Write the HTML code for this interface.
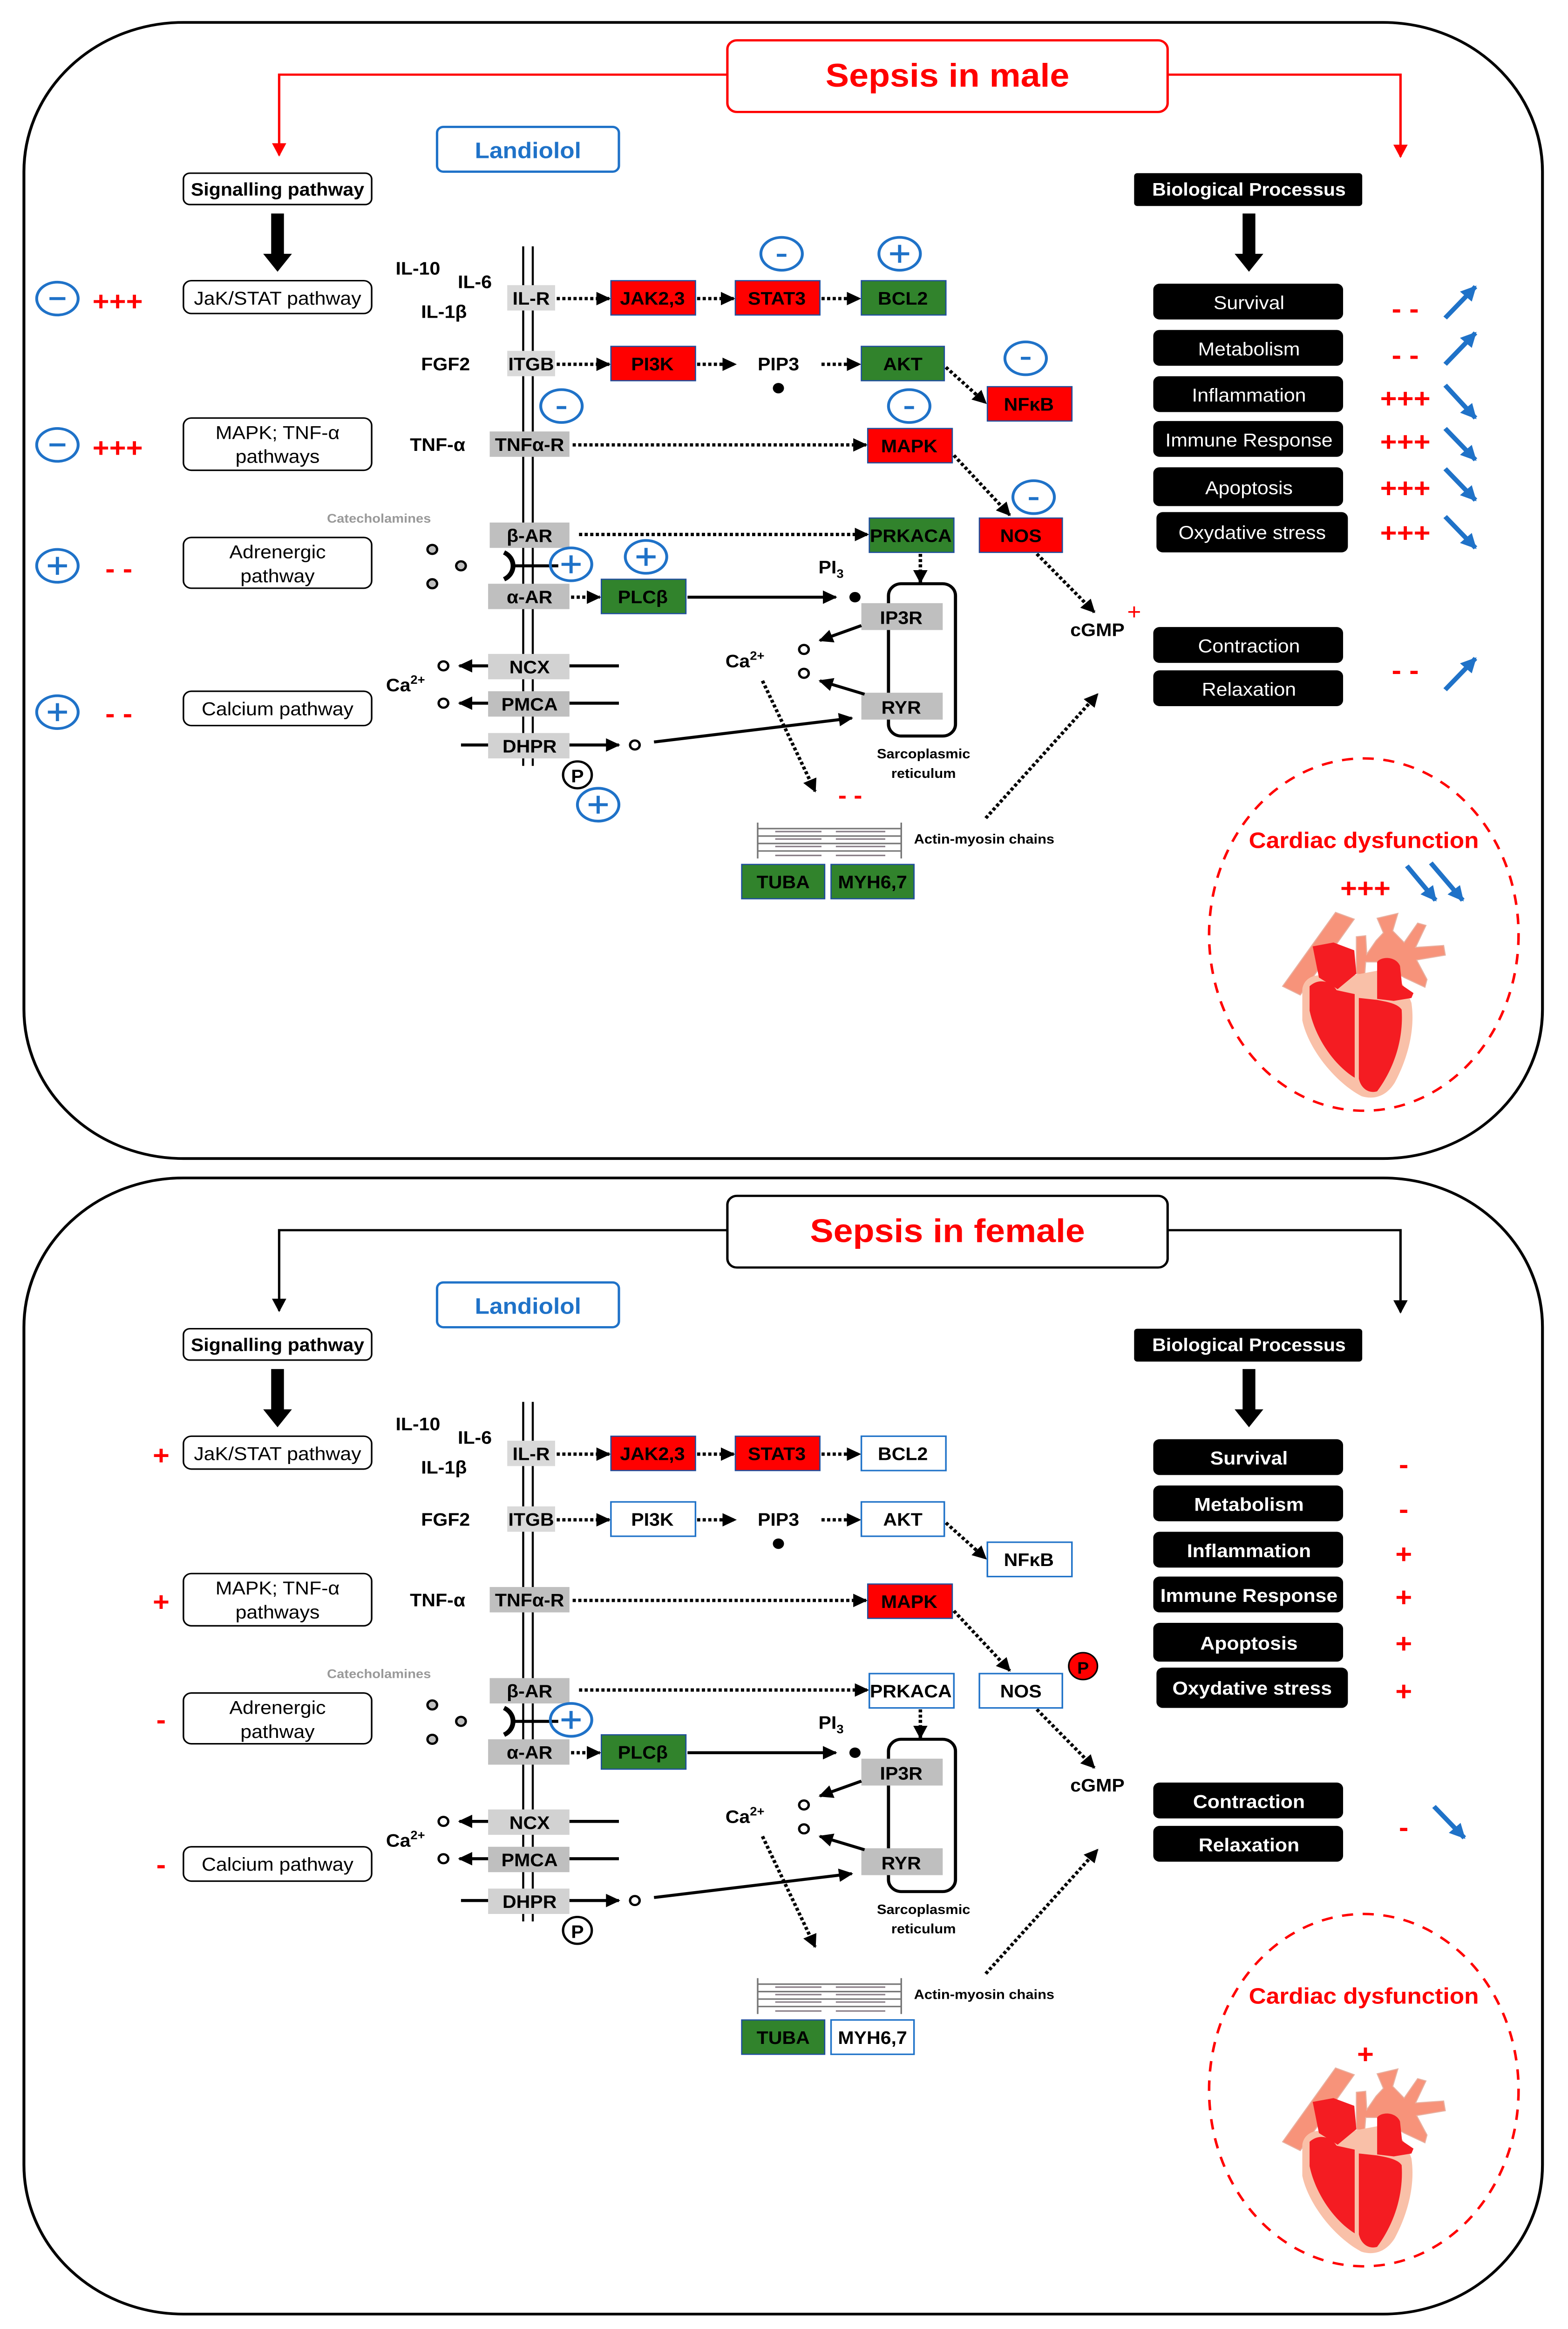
<!DOCTYPE html>
<html><head><meta charset="utf-8"><style>
html,body{margin:0;padding:0;background:#fff;width:100%;height:100%;overflow:hidden}
svg{display:block;width:100vw;height:100vh}
text{font-family:"Liberation Sans",sans-serif}
</style></head><body>
<svg viewBox="0 0 983 1560" preserveAspectRatio="none" xmlns="http://www.w3.org/2000/svg">
<defs>
<marker id="a" viewBox="0 0 10 10" refX="9" refY="5" markerWidth="9" markerHeight="9" markerUnits="userSpaceOnUse" orient="auto"><path d="M0,0L10,5L0,10z" fill="#000"/></marker>
<marker id="r" viewBox="0 0 10 10" refX="9" refY="5" markerWidth="9" markerHeight="9" markerUnits="userSpaceOnUse" orient="auto"><path d="M0,0L10,5L0,10z" fill="#f00"/></marker>
<marker id="b" viewBox="0 0 10 10" refX="9" refY="5" markerWidth="10" markerHeight="10" markerUnits="userSpaceOnUse" orient="auto"><path d="M0,0L10,5L0,10z" fill="#1f72c8"/></marker>
<g id="heart">
 <g transform="translate(759.1,540.1) scale(0.1303)">
 <path d="M345,925 L600,545 L690,580 L430,970 Z" fill="#f7937a" stroke="#e8b0a0" stroke-width="5"/>
 <path d="M800,575 L900,550 L875,640 L930,700 L995,600 L1035,612 L985,725 L1120,715 L1128,765 L990,790 L1040,890 L1030,930 L930,880 L800,800 L745,800 L740,870 L700,860 L700,670 L745,665 L750,760 L795,690 L830,650 Z" fill="#f7937a" stroke="#e8b0a0" stroke-width="5"/>
 <path d="M440,940 C450,870 520,850 600,885 L800,845 C870,830 930,900 965,1010 C985,1150 945,1300 885,1420 C845,1490 785,1510 725,1490 C600,1420 470,1250 440,1100 Z" fill="#f9c0a8"/>
 <path d="M490,720 L590,700 L690,740 L700,860 L610,940 L520,880 Z" fill="#f41c22"/>
 <path d="M475,925 C520,880 580,900 605,945 L692,965 L692,1395 C600,1335 505,1200 475,1050 Z" fill="#f41c22"/>
 <path d="M712,985 L800,995 C850,1005 900,1015 918,1045 C928,1200 880,1350 800,1465 C760,1478 722,1450 712,1400 Z" fill="#f41c22"/>
 <path d="M800,800 C820,770 890,770 910,820 L920,920 L975,960 L965,985 L880,1000 L800,990 Z" fill="#f41c22"/>
 </g>
</g>
<g id="common">
 <rect x="115" y="116" width="118" height="21" rx="4" fill="#fff" stroke="#000" stroke-width="1"/>
 <text x="174" y="131" font-size="12" font-weight="bold" text-anchor="middle">Signalling pathway</text>
 <path d="M170,143 L178,143 L178,170 L183,170 L174,182 L165,170 L170,170 Z" fill="#000"/>
 <rect x="115" y="188" width="118" height="22" rx="5" fill="#fff" stroke="#000"/>
 <text x="174" y="204" font-size="12.5" text-anchor="middle">JaK/STAT pathway</text>
 <rect x="115" y="280" width="118" height="35" rx="5" fill="#fff" stroke="#000"/>
 <text x="174" y="294" font-size="12.5" text-anchor="middle">MAPK; TNF-α</text>
 <text x="174" y="310" font-size="12.5" text-anchor="middle">pathways</text>
 <rect x="115" y="360" width="118" height="34" rx="5" fill="#fff" stroke="#000"/>
 <text x="174" y="374" font-size="12.5" text-anchor="middle">Adrenergic</text>
 <text x="174" y="390" font-size="12.5" text-anchor="middle">pathway</text>
 <rect x="115" y="463" width="118" height="23" rx="5" fill="#fff" stroke="#000"/>
 <text x="174" y="479" font-size="12.5" text-anchor="middle">Calcium pathway</text>
 <rect x="274" y="85" width="114" height="30" rx="4" fill="#fff" stroke="#1f72c8" stroke-width="1.5"/>
 <text x="331" y="106" font-size="15" font-weight="bold" fill="#1f72c8" text-anchor="middle">Landiolol</text>
 <line x1="328" y1="165" x2="328" y2="513" stroke="#000" stroke-width="1.3"/>
 <line x1="334" y1="165" x2="334" y2="513" stroke="#000" stroke-width="1.3"/>
 <g font-size="12" font-weight="bold">
 <text x="248" y="184">IL-10</text><text x="287" y="193">IL-6</text><text x="264" y="213">IL-1β</text>
 <text x="264" y="248">FGF2</text><text x="257" y="302">TNF-α</text>
 <text x="242" y="463">Ca<tspan font-size="8" dy="-5">2+</tspan></text>
 </g>
 <text x="205" y="350" font-size="8.5" font-weight="bold" fill="#999">Catecholamines</text>
 <rect x="318" y="191" width="30" height="17" fill="#d9d9d9"/><rect x="318" y="235" width="30" height="17" fill="#d9d9d9"/>
 <rect x="307" y="289" width="50" height="17" fill="#bfbfbf"/><rect x="307" y="350" width="50" height="17" fill="#bfbfbf"/>
 <rect x="306" y="391" width="51" height="17" fill="#bfbfbf"/><rect x="306" y="438" width="51" height="17" fill="#d2d2d2"/>
 <rect x="306" y="463" width="51" height="17" fill="#bfbfbf"/><rect x="306" y="491" width="51" height="17" fill="#d2d2d2"/>
 <g font-size="12" font-weight="bold" text-anchor="middle">
 <text x="333" y="204">IL-R</text><text x="333" y="248">ITGB</text><text x="332" y="302">TNFα-R</text>
 <text x="332" y="363">β-AR</text><text x="332" y="404">α-AR</text><text x="332" y="451">NCX</text>
 <text x="332" y="476">PMCA</text><text x="332" y="504">DHPR</text>
 </g>
 <rect x="383" y="188" width="53" height="23" fill="#f00" stroke="#1f4e9c" stroke-width="0.8"/>
 <rect x="461" y="188" width="53" height="23" fill="#f00" stroke="#1f4e9c" stroke-width="0.8"/>
 <rect x="544" y="287" width="53" height="23" fill="#f00" stroke="#1f4e9c" stroke-width="0.8"/>
 <rect x="377" y="388" width="53" height="23" fill="#31832c" stroke="#1f4e9c" stroke-width="0.8"/>
 <rect x="465" y="579" width="52" height="23" fill="#31832c" stroke="#1f4e9c" stroke-width="0.8"/>
 <g font-size="12" font-weight="bold" text-anchor="middle">
 <text x="409" y="204">JAK2,3</text><text x="487" y="204">STAT3</text><text x="570" y="303">MAPK</text>
 <text x="403" y="404">PLCβ</text><text x="491" y="595">TUBA</text>
 <text x="488" y="248">PIP3</text><text x="688" y="426">cGMP</text>
 <text x="521" y="384">PI<tspan font-size="8" dy="3">3</tspan></text>
 <text x="467" y="447">Ca<tspan font-size="8" dy="-5">2+</tspan></text>
 </g>
 <circle cx="488" cy="260" r="3.5"/><circle cx="536" cy="400" r="3.5"/>
 <g stroke="#000" stroke-width="2.2" stroke-dasharray="2,1.5" fill="none" marker-end="url(#a)">
 <line x1="349" y1="200" x2="382" y2="200"/><line x1="437" y1="200" x2="460" y2="200"/><line x1="515" y1="200" x2="539" y2="200"/>
 <line x1="349" y1="244" x2="382" y2="244"/><line x1="437" y1="244" x2="461" y2="244"/><line x1="515" y1="244" x2="539" y2="244"/>
 <line x1="593" y1="246" x2="618" y2="270"/>
 <line x1="359" y1="298" x2="543" y2="298"/>
 <line x1="598" y1="305" x2="633" y2="345"/>
 <line x1="363" y1="358" x2="544" y2="358"/>
 <line x1="577" y1="371" x2="577" y2="390"/>
 <line x1="358" y1="400" x2="376" y2="400"/>
 <line x1="650" y1="371" x2="686" y2="410"/>
 <line x1="478" y1="456" x2="511" y2="530"/>
 <line x1="618" y1="548" x2="688" y2="465"/>
 </g>
 <rect x="557" y="391" width="42" height="102" rx="8" fill="none" stroke="#000" stroke-width="2"/>
 <rect x="540" y="404" width="51" height="18" fill="#bfbfbf"/><rect x="540" y="464" width="51" height="18" fill="#bfbfbf"/>
 <g font-size="12" font-weight="bold" text-anchor="middle"><text x="565" y="418">IP3R</text><text x="565" y="478">RYR</text></g>
 <g font-size="9" font-weight="bold" text-anchor="middle"><text x="579" y="508">Sarcoplasmic</text><text x="579" y="521">reticulum</text></g>
 <g stroke="#000" stroke-width="2" fill="none" marker-end="url(#a)">
 <line x1="431" y1="400" x2="524" y2="400"/>
 <line x1="540" y1="419" x2="514" y2="429"/>
 <line x1="542" y1="465" x2="514" y2="456"/>
 <line x1="306" y1="446" x2="288" y2="446"/><line x1="306" y1="471" x2="288" y2="471"/>
 <line x1="357" y1="499" x2="388" y2="499"/>
 <line x1="410" y1="497" x2="534" y2="481"/>
 </g>
 <g stroke="#000" stroke-width="2"><line x1="357" y1="446" x2="388" y2="446"/><line x1="357" y1="471" x2="388" y2="471"/><line x1="289" y1="499" x2="306" y2="499"/><line x1="322" y1="379" x2="350" y2="379"/></g>
 <path d="M316,370 A10,10 0 0 1 316,388" fill="none" stroke="#000" stroke-width="3"/>
 <g fill="#fff" stroke="#000" stroke-width="1.5">
 <circle cx="504" cy="435" r="3"/><circle cx="504" cy="451" r="3"/>
 <circle cx="278" cy="446" r="3"/><circle cx="278" cy="471" r="3"/><circle cx="398" cy="499" r="3"/>
 </g>
 <g fill="#bfbfbf" stroke="#000" stroke-width="1.5"><circle cx="271" cy="368" r="3"/><circle cx="289" cy="379" r="3"/><circle cx="271" cy="391" r="3"/></g>
 <circle cx="362" cy="519" r="9" fill="#fff" stroke="#000" stroke-width="1.5"/>
 <text x="362" y="524" font-size="12" font-weight="bold" text-anchor="middle">P</text>
 <rect x="472" y="551" width="96" height="24" fill="#fff"/>
 <g stroke="#777" stroke-width="1"><line x1="475" y1="551" x2="475" y2="575"/><line x1="565" y1="551" x2="565" y2="575"/>
 <line x1="475" y1="555" x2="565" y2="555"/><line x1="475" y1="560" x2="565" y2="560"/><line x1="475" y1="565" x2="565" y2="565"/><line x1="475" y1="570" x2="565" y2="570"/></g>
 <g stroke="#8a7f88" stroke-width="1"><line x1="486" y1="557" x2="515" y2="557"/><line x1="524" y1="557" x2="555" y2="557"/><line x1="486" y1="562" x2="515" y2="562"/><line x1="524" y1="562" x2="555" y2="562"/><line x1="486" y1="567" x2="515" y2="567"/><line x1="524" y1="567" x2="555" y2="567"/><line x1="486" y1="573" x2="515" y2="573"/><line x1="524" y1="573" x2="555" y2="573"/></g>
 <text x="573" y="565" font-size="9" font-weight="bold">Actin-myosin chains</text>
 <rect x="711" y="116" width="143" height="22" rx="2" fill="#000"/>
 <text x="783" y="131" font-size="12" font-weight="bold" fill="#fff" text-anchor="middle">Biological Processus</text>
 <path d="M779,143 L787,143 L787,170 L792,170 L783,182 L774,170 L779,170 Z" fill="#000"/>
 <g fill="#000">
 <rect x="723" y="190" width="119" height="24" rx="4"/><rect x="723" y="221" width="119" height="24" rx="4"/>
 <rect x="723" y="252" width="119" height="24" rx="4"/><rect x="723" y="282" width="119" height="24" rx="4"/>
 <rect x="723" y="313" width="119" height="26" rx="4"/><rect x="725" y="343" width="120" height="27" rx="4"/>
 <rect x="723" y="420" width="119" height="24" rx="4"/><rect x="723" y="449" width="119" height="24" rx="4"/>
 </g>
 <ellipse cx="855" cy="626" rx="97" ry="118" fill="none" stroke="#f00" stroke-width="1.6" stroke-dasharray="7,6"/>
 <text x="855" y="568" font-size="15" font-weight="bold" fill="#f00" text-anchor="middle">Cardiac dysfunction</text>
 <use href="#heart"/>
</g>
</defs>

<rect x="15" y="15" width="952" height="761" rx="100" fill="#fff" stroke="#000" stroke-width="1.8"/>
<use href="#common"/>
<polyline points="456,50 175,50 175,104" fill="none" stroke="#f00" stroke-width="1.5" marker-end="url(#r)"/>
<polyline points="732,50 878,50 878,105" fill="none" stroke="#f00" stroke-width="1.5" marker-end="url(#r)"/>
<rect x="456" y="27" width="276" height="48" rx="6" fill="#fff" stroke="#f00" stroke-width="1.5"/>
<text x="594" y="58" font-size="22" font-weight="bold" fill="#f00" text-anchor="middle">Sepsis in male</text>
<rect x="540" y="188" width="53" height="23" fill="#31832c" stroke="#1f4e9c" stroke-width="0.8"/>
<rect x="383" y="232" width="53" height="23" fill="#f00" stroke="#1f4e9c" stroke-width="0.8"/>
<rect x="540" y="232" width="52" height="23" fill="#31832c" stroke="#1f4e9c" stroke-width="0.8"/>
<rect x="619" y="259" width="53" height="23" fill="#f00" stroke="#1f4e9c" stroke-width="0.8"/>
<rect x="545" y="347" width="53" height="23" fill="#31832c" stroke="#1f4e9c" stroke-width="0.8"/>
<rect x="614" y="347" width="52" height="23" fill="#f00" stroke="#1f4e9c" stroke-width="0.8"/>
<rect x="521" y="579" width="52" height="23" fill="#31832c" stroke="#1f4e9c" stroke-width="0.8"/>
<g font-size="12" font-weight="bold" text-anchor="middle">
<text x="566" y="204">BCL2</text><text x="409" y="248">PI3K</text><text x="566" y="248">AKT</text>
<text x="645" y="275">NFκB</text><text x="571" y="363">PRKACA</text><text x="640" y="363">NOS</text><text x="547" y="595">MYH6,7</text>
</g>
<text x="711" y="415" font-size="15" fill="#f00" text-anchor="middle">+</text>
<text x="533" y="538" font-size="16" font-weight="bold" fill="#f00" text-anchor="middle">- -</text>
<g fill="none" stroke="#1f72c8" stroke-width="1.8">
<ellipse cx="36" cy="200" rx="13" ry="11"/><ellipse cx="36" cy="298" rx="13" ry="11"/>
<ellipse cx="36" cy="379" rx="13" ry="11"/><ellipse cx="36" cy="477" rx="13" ry="11"/>
<ellipse cx="490" cy="170" rx="13" ry="11"/><ellipse cx="564" cy="170" rx="13" ry="11"/>
<ellipse cx="643" cy="240" rx="13" ry="11"/><ellipse cx="352" cy="272" rx="13" ry="11"/>
<ellipse cx="570" cy="272" rx="13" ry="11"/><ellipse cx="648" cy="333" rx="13" ry="11"/>
<ellipse cx="358" cy="378" rx="13" ry="11"/><ellipse cx="405" cy="373" rx="13" ry="11"/>
<ellipse cx="375" cy="539" rx="13" ry="11"/>
</g>
<g stroke="#1f72c8" stroke-width="2">
<line x1="31" y1="200" x2="41" y2="200"/><line x1="31" y1="298" x2="41" y2="298"/>
<line x1="30" y1="379" x2="42" y2="379"/><line x1="36" y1="373" x2="36" y2="385"/>
<line x1="30" y1="477" x2="42" y2="477"/><line x1="36" y1="471" x2="36" y2="483"/>
<line x1="487" y1="171" x2="493" y2="171"/>
<line x1="558" y1="170" x2="570" y2="170"/><line x1="564" y1="164" x2="564" y2="176"/>
<line x1="640" y1="240" x2="646" y2="240"/><line x1="349" y1="273" x2="355" y2="273"/>
<line x1="567" y1="273" x2="573" y2="273"/><line x1="645" y1="334" x2="651" y2="334"/>
<line x1="352" y1="378" x2="364" y2="378"/><line x1="358" y1="372" x2="358" y2="384"/>
<line x1="399" y1="373" x2="411" y2="373"/><line x1="405" y1="367" x2="405" y2="379"/>
<line x1="369" y1="539" x2="381" y2="539"/><line x1="375" y1="533" x2="375" y2="545"/>
</g>
<g font-size="18" fill="#f00" font-weight="bold">
<text x="58" y="208">+++</text><text x="58" y="306">+++</text><text x="66" y="387">- -</text><text x="66" y="484">- -</text>
</g>
<g font-size="12.5" fill="#fff" text-anchor="middle">
<text x="783" y="207">Survival</text><text x="783" y="238">Metabolism</text><text x="783" y="269">Inflammation</text>
<text x="783" y="299">Immune Response</text><text x="783" y="331">Apoptosis</text><text x="785" y="361">Oxydative stress</text>
<text x="783" y="437">Contraction</text><text x="783" y="466">Relaxation</text>
</g>
<g font-size="18" fill="#f00" font-weight="bold" text-anchor="middle">
<text x="881" y="213">- -</text><text x="881" y="244">- -</text><text x="881" y="273">+++</text><text x="881" y="302">+++</text>
<text x="881" y="333">+++</text><text x="881" y="363">+++</text><text x="881" y="455">- -</text><text x="856" y="601">+++</text>
</g>
<g stroke="#1f72c8" stroke-width="3" marker-end="url(#b)">
<line x1="906" y1="213" x2="925" y2="192"/><line x1="906" y1="244" x2="925" y2="223"/>
<line x1="906" y1="258" x2="925" y2="280"/><line x1="906" y1="287" x2="925" y2="308"/>
<line x1="906" y1="314" x2="925" y2="335"/><line x1="906" y1="346" x2="925" y2="367"/>
<line x1="906" y1="462" x2="925" y2="441"/>
<line x1="882" y1="580" x2="900" y2="603"/><line x1="897" y1="578" x2="917" y2="603"/>
</g>

<rect x="15" y="789" width="952" height="761" rx="100" fill="#fff" stroke="#000" stroke-width="1.8"/>
<g transform="translate(0,774)"><use href="#common"/></g>
<polyline points="456,824 175,824 175,878" fill="none" stroke="#000" stroke-width="1.5" marker-end="url(#a)"/>
<polyline points="732,824 878,824 878,879" fill="none" stroke="#000" stroke-width="1.5" marker-end="url(#a)"/>
<rect x="456" y="801" width="276" height="48" rx="6" fill="#fff" stroke="#000" stroke-width="1.5"/>
<text x="594" y="832" font-size="22" font-weight="bold" fill="#f00" text-anchor="middle">Sepsis in female</text>
<g fill="#fff" stroke="#1f72c8" stroke-width="1">
<rect x="540" y="962" width="53" height="23"/><rect x="383" y="1006" width="53" height="23"/><rect x="540" y="1006" width="52" height="23"/>
<rect x="619" y="1033" width="53" height="23"/><rect x="545" y="1121" width="53" height="23"/><rect x="614" y="1121" width="52" height="23"/>
<rect x="521" y="1353" width="52" height="23"/>
</g>
<g font-size="12" font-weight="bold" text-anchor="middle">
<text x="566" y="978">BCL2</text><text x="409" y="1022">PI3K</text><text x="566" y="1022">AKT</text>
<text x="645" y="1049">NFκB</text><text x="571" y="1137">PRKACA</text><text x="640" y="1137">NOS</text><text x="547" y="1369">MYH6,7</text>
</g>
<ellipse cx="358" cy="1152" rx="13" ry="11" fill="none" stroke="#1f72c8" stroke-width="1.8"/>
<g stroke="#1f72c8" stroke-width="2"><line x1="352" y1="1152" x2="364" y2="1152"/><line x1="358" y1="1146" x2="358" y2="1158"/></g>
<circle cx="679" cy="1116" r="9" fill="#f00" stroke="#000" stroke-width="1"/>
<text x="679" y="1121" font-size="11" font-weight="bold" text-anchor="middle">P</text>
<g font-size="18" fill="#f00" font-weight="bold" text-anchor="middle">
<text x="101" y="981">+</text><text x="101" y="1079">+</text><text x="101" y="1158">-</text><text x="101" y="1255">-</text>
</g>
<g font-size="12.5" font-weight="bold" fill="#fff" text-anchor="middle">
<text x="783" y="981">Survival</text><text x="783" y="1012">Metabolism</text><text x="783" y="1043">Inflammation</text>
<text x="783" y="1073">Immune Response</text><text x="783" y="1105">Apoptosis</text><text x="785" y="1135">Oxydative stress</text>
<text x="783" y="1211">Contraction</text><text x="783" y="1240">Relaxation</text>
</g>
<g font-size="18" fill="#f00" font-weight="bold" text-anchor="middle">
<text x="880" y="987">-</text><text x="880" y="1017">-</text><text x="880" y="1047">+</text><text x="880" y="1076">+</text>
<text x="880" y="1107">+</text><text x="880" y="1139">+</text><text x="880" y="1230">-</text><text x="856" y="1382">+</text>
</g>
<g stroke="#1f72c8" stroke-width="3" marker-end="url(#b)"><line x1="899" y1="1210" x2="918" y2="1231"/></g>
</svg>
</body></html>
